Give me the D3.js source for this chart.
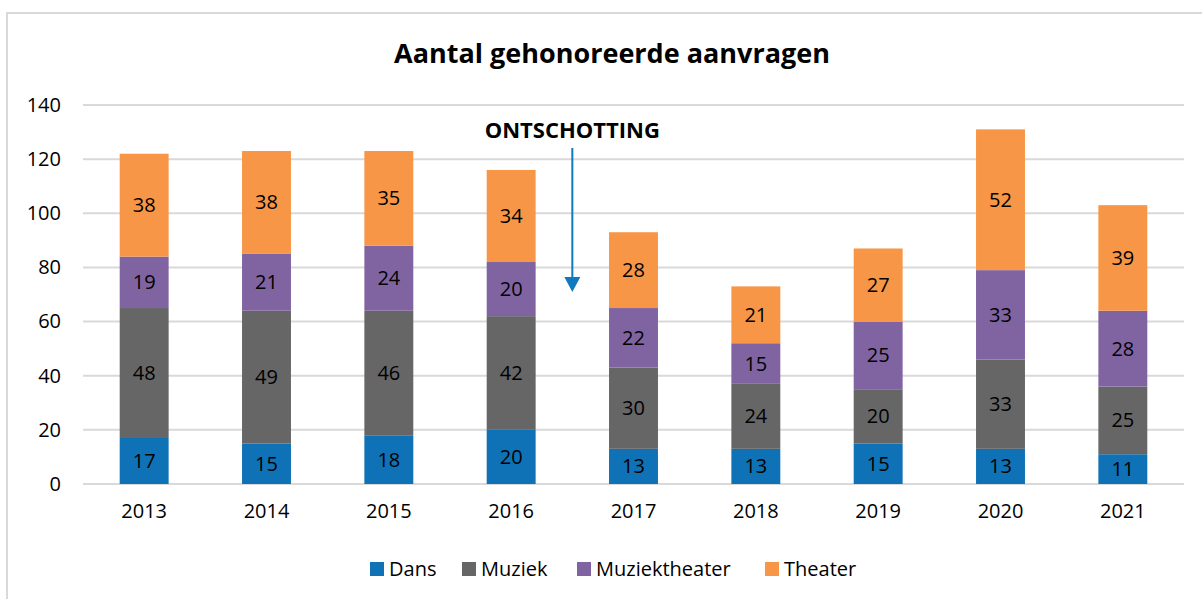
<!DOCTYPE html>
<html>
<head>
<meta charset="utf-8">
<script src="https://cdn.jsdelivr.net/npm/d3@7"></script>
<style>
  body { margin: 0; background: #fff; }
  svg { display: block; font-family: "Open Sans", "Noto Sans", sans-serif; }
</style>
</head>
<body>
<svg id="chart" width="1202" height="599"></svg>
<script>
var years = ['2013', '2014', '2015', '2016', '2017', '2018', '2019', '2020', '2021'];
var seriesNames = ['Dans', 'Muziek', 'Muziektheater', 'Theater'];
var dans = [17, 15, 18, 20, 13, 13, 15, 13, 11];
var muziek = [48, 49, 46, 42, 30, 24, 20, 33, 25];
var muziektheater = [19, 21, 24, 20, 22, 15, 25, 33, 28];
var theater = [38, 38, 35, 34, 28, 21, 27, 52, 39];
var yTicks = [0, 20, 40, 60, 80, 100, 120, 140];
var colors = ['#0F72B6', '#666666', '#8064A2', '#F79646'];

var svg = d3.select('svg#chart');
var margin = { left: 83, right: 1184, top: 105, bottom: 484 };

// frame
svg.append('rect')
  .attr('x', 7).attr('y', 13)
  .attr('width', 1210).attr('height', 600)
  .attr('fill', 'none').attr('stroke', '#D9D9D9').attr('stroke-width', 2);

var x = d3.scaleBand().domain(years).range([margin.left, margin.right]).paddingInner(0.6).paddingOuter(0.3);
var y = d3.scaleLinear().domain([0, 140]).range([margin.bottom, margin.top]);

// gridlines
svg.append('g')
  .selectAll('line').data(yTicks).enter()
  .append('line')
    .attr('x1', margin.left).attr('x2', margin.right)
    .attr('y1', function(d) { return y(d); }).attr('y2', function(d) { return y(d); })
    .attr('stroke', '#D9D9D9').attr('stroke-width', 2);

var yAxis = svg.append('g')
  .attr('transform', 'translate(' + (margin.left - 22) + ',0)')
  .call(d3.axisLeft(y).tickValues(yTicks).tickSize(0).tickPadding(0));
yAxis.select('.domain').remove();
yAxis.selectAll('text').attr('font-size', 20).attr('font-family', 'Open Sans').attr('fill', '#000');

var xAxis = svg.append('g')
  .attr('transform', 'translate(0,' + (margin.bottom + 20) + ')')
  .call(d3.axisBottom(x).tickSize(0).tickPadding(0));
xAxis.select('.domain').remove();
xAxis.selectAll('text').attr('font-size', 20).attr('font-family', 'Open Sans').attr('fill', '#000');

// stacked bars
var rows = years.map(function(yr, i) {
  return { year: yr, Dans: dans[i], Muziek: muziek[i], Muziektheater: muziektheater[i], Theater: theater[i] };
});
var stacked = d3.stack().keys(seriesNames)(rows);

var layers = svg.append('g').selectAll('g').data(stacked).enter()
  .append('g').attr('fill', function(d, i) { return colors[i]; });

layers.selectAll('rect').data(function(d) { return d; }).enter()
  .append('rect')
    .attr('x', function(d) { return x(d.data.year); })
    .attr('width', x.bandwidth())
    .attr('y', function(d) { return y(d[1]); })
    .attr('height', function(d) { return y(d[0]) - y(d[1]); });

layers.selectAll('text').data(function(d) { return d; }).enter()
  .append('text')
    .attr('x', function(d) { return x(d.data.year) + x.bandwidth() / 2; })
    .attr('y', function(d) { return (y(d[0]) + y(d[1])) / 2; })
    .attr('dy', '0.35em')
    .attr('text-anchor', 'middle')
    .attr('font-size', 20)
    .attr('fill', '#000')
    .text(function(d) { return d[1] - d[0]; });

// title
svg.append('text')
  .attr('x', 612).attr('y', 63)
  .attr('text-anchor', 'middle')
  .attr('font-size', 27).attr('font-weight', 'bold')
  .text('Aantal gehonoreerde aanvragen');

// annotation
var arrowX = (x('2016') + x('2017') + x.bandwidth()) / 2;
svg.append('text')
  .attr('x', arrowX).attr('y', 138)
  .attr('text-anchor', 'middle')
  .attr('font-size', 22).attr('font-weight', 'bold')
  .text('ONTSCHOTTING');
svg.append('line')
  .attr('x1', arrowX).attr('x2', arrowX)
  .attr('y1', 148).attr('y2', 280)
  .attr('stroke', '#0F7AC0').attr('stroke-width', 2);
svg.append('path')
  .attr('d', d3.line()([[arrowX - 8, 277], [arrowX + 8, 277], [arrowX, 292]]))
  .attr('fill', '#0F7AC0');

// legend
var legendX = [370, 462, 577, 765];
var legend = svg.append('g').selectAll('g').data(seriesNames).enter()
  .append('g').attr('transform', function(d, i) { return 'translate(' + legendX[i] + ',562)'; });
legend.append('rect').attr('width', 14).attr('height', 14).attr('fill', function(d, i) { return colors[i]; });
legend.append('text').attr('x', 19).attr('y', 7).attr('dy', '0.35em')
  .attr('font-size', 20).text(function(d) { return d; });
</script>
</body>
</html>
